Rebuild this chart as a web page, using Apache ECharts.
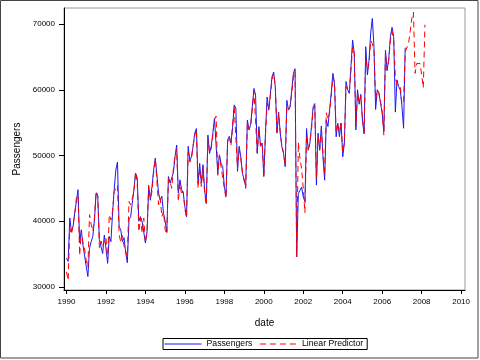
<!DOCTYPE html>
<html>
<head>
<meta charset="utf-8">
<script src="https://cdn.jsdelivr.net/npm/echarts@6/dist/echarts.min.js"></script>
<style>
html,body{margin:0;padding:0;background:#fff;}
#c{width:480px;height:360px;}
</style>
</head>
<body>
<div id="c"></div>
<script>
// Monthly data starting January 1990
var startYear = 1990;
var passengers = [
  34400, 33900, 40500, 38400, 39200, 41300, 43000, 44800, 36700, 38700, 36400, 36100,
  33100, 31600, 35900, 36900, 37700, 40200, 44300, 43800, 37200, 36100, 35100, 37900,
  35900, 33600, 37700, 36900, 41200, 44800, 47800, 49000, 39200, 38700, 36900, 37500,
  35200, 33700, 40200, 40700, 42700, 44800, 47300, 46600, 40000, 40700, 40000, 40200,
  36700, 38400, 45300, 43200, 45300, 47800, 49600, 49800, 44300, 43200, 43800, 41200,
  40000, 38400, 46800, 45800, 45500, 47400, 49800, 51600, 44300, 46300, 44800, 44300,
  42200, 40700, 51400, 49300, 49800, 51400, 53400, 54100, 45800, 48800, 45800, 48600,
  44800, 42700, 53100, 50300, 51400, 53400, 55700, 55900, 47300, 50100, 48800, 48300,
  45300, 43800, 52400, 52900, 51900, 54200, 57700, 57200, 47600, 51400, 49800, 47300,
  47300, 45300, 55400, 53900, 54700, 57400, 60200, 59200, 50300, 54400, 51400, 51900,
  46800, 53400, 58900, 56900, 59400, 62000, 62700, 60400, 53400, 56600, 53400, 51300,
  50300, 48300, 58400, 56900, 57400, 59900, 62500, 63200, 34600, 44200, 44700, 45200,
  43700, 43000, 54100, 50800, 51800, 54400, 57400, 57900, 45500, 53400, 50800, 54500,
  49800, 46250, 55400, 54400, 56900, 59450, 62500, 61000, 52850, 54900, 52850, 54950,
  49800, 51850, 61250, 60000, 59450, 63500, 67550, 65550, 53900, 60000, 57800, 59300,
  55400, 53300, 66550, 62250, 64500, 68600, 70850, 66550, 57000, 60000, 59500, 59500,
  56400, 53600, 66000, 62900, 64750, 68100, 69500, 68100, 56600, 61500, 60500, 59950,
  57500, 54150, 66400
];
var linearPredictor = [
  32300, 31000, 39000, 38000, 39500, 41000, 43500, 44000, 34800, 38500, 36800, 35800,
  34000, 33000, 41000, 39500, 38500, 40500, 44500, 44000, 36000, 37000, 36000, 37000,
  37500, 34000, 41000, 40200, 41500, 44500, 44500, 45500, 38000, 36800, 37800, 36200,
  35500, 34600, 43000, 42500, 42200, 44500, 47500, 46000, 38400, 40500, 38200, 40500,
  36700, 38600, 45500, 43500, 44500, 47500, 49500, 49800, 42500, 43500, 40700, 41500,
  38700, 38000, 46500, 46000, 45000, 48000, 50000, 51000, 43000, 45800, 44000, 44500,
  41800, 40500, 50500, 49000, 49500, 51500, 53000, 54000, 45000, 48000, 45300, 48000,
  44300, 42500, 52500, 50500, 51000, 53000, 55500, 56000, 47000, 50000, 48300, 48500,
  45000, 43500, 52000, 53000, 51500, 54500, 57500, 57500, 48000, 51000, 49500, 47500,
  47500, 45000, 55000, 54000, 54500, 57000, 59800, 59500, 50500, 54000, 51500, 52000,
  47000, 53000, 58000, 57000, 59000, 61500, 62500, 60500, 53500, 56500, 53500, 51500,
  50500, 48500, 57500, 57000, 57500, 59500, 62000, 62800, 34600, 52000, 49500, 48000,
  45000, 41300, 53000, 51000, 52000, 54000, 57000, 57500, 46500, 53000, 51000, 54000,
  50000, 47000, 56500, 55500, 56500, 59000, 62000, 61000, 53500, 55000, 53500, 55000,
  50500, 52000, 60500, 60000, 59500, 63000, 66500, 65500, 54500, 59500, 58000, 59000,
  55500, 53500, 65000, 63000, 64000, 67500, 67000, 66000, 58500, 60000, 59500, 59500,
  56800, 53100, 65500, 63000, 64500, 67500, 68800, 67500, 62000, 60700, 60700, 60500,
  57800, 58200, 65800, 65500, 67000, 68800, 70800, 71800, 62500, 64000, 64300, 64000,
  62300, 60300, 69900
];
var xTicks = [1990, 1992, 1994, 1996, 1998, 2000, 2002, 2004, 2006, 2008, 2010];
var yTicks = [30000, 40000, 50000, 60000, 70000];

function toPairs(arr) {
  return arr.map(function (v, i) { return [startYear + i / 12, v]; });
}

var chart = echarts.init(document.getElementById('c'), null, {renderer: 'canvas'});
var font = "'Liberation Sans', Arial, sans-serif";
chart.setOption({
  animation: false,
  backgroundColor: '#fff',
  textStyle: {fontFamily: font, color: '#000'},
  grid: {left: 64, right: 15, top: 8, bottom: 70, show: true, borderColor: '#999', borderWidth: 1},
  graphic: [{
    type: 'rect', silent: true, z: 100,
    shape: {x: 0.5, y: 0.5, width: 477.5, height: 357.5},
    style: {fill: 'none', stroke: '#444', lineWidth: 1}
  }],
  xAxis: {
    type: 'value', min: 1989.873, max: 2010.197,
    name: 'date', nameLocation: 'middle', nameGap: 28,
    nameTextStyle: {fontSize: 10, color: '#000', fontFamily: font},
    axisLine: {show: true, onZero: false, lineStyle: {color: '#000', width: 1}},
    axisTick: {show: true, length: 4, customValues: xTicks, lineStyle: {color: '#000'}},
    axisLabel: {customValues: xTicks, fontSize: 8, color: '#000', margin: 8, fontFamily: font,
      formatter: function (v) { return String(Math.round(v)); }},
    splitLine: {show: false}
  },
  yAxis: {
    type: 'value', min: 29544, max: 72436,
    name: 'Passengers', nameLocation: 'middle', nameGap: 42,
    nameTextStyle: {fontSize: 10, color: '#000', fontFamily: font},
    axisLine: {show: true, onZero: false, lineStyle: {color: '#000', width: 1}},
    axisTick: {show: true, length: 5, customValues: yTicks, lineStyle: {color: '#000'}},
    axisLabel: {customValues: yTicks, fontSize: 8, color: '#000', margin: 9, fontFamily: font,
      formatter: function (v) { return String(Math.round(v)); }},
    splitLine: {show: false}
  },
  legend: {
    left: 163, top: 338.5, orient: 'horizontal',
    padding: [1, 4, 1, 1], itemWidth: 37, itemHeight: 10, itemGap: 7,
    borderColor: '#000', borderWidth: 1, borderRadius: 0,
    itemStyle: {opacity: 0},
    lineStyle: {width: 1},
    textStyle: {fontSize: 8.7, color: '#000', fontFamily: font},
    data: ['Passengers', 'Linear Predictor']
  },
  series: [
    {
      name: 'Passengers', type: 'line', data: toPairs(passengers),
      symbol: 'none', showSymbol: false,
      lineStyle: {color: '#1a1af5', width: 1},
      itemStyle: {color: '#1a1af5'}
    },
    {
      name: 'Linear Predictor', type: 'line', data: toPairs(linearPredictor),
      symbol: 'none', showSymbol: false,
      lineStyle: {color: '#ff0000', width: 1, type: [6, 4]},
      itemStyle: {color: '#ff0000'}
    }
  ]
});
</script>
</body>
</html>
